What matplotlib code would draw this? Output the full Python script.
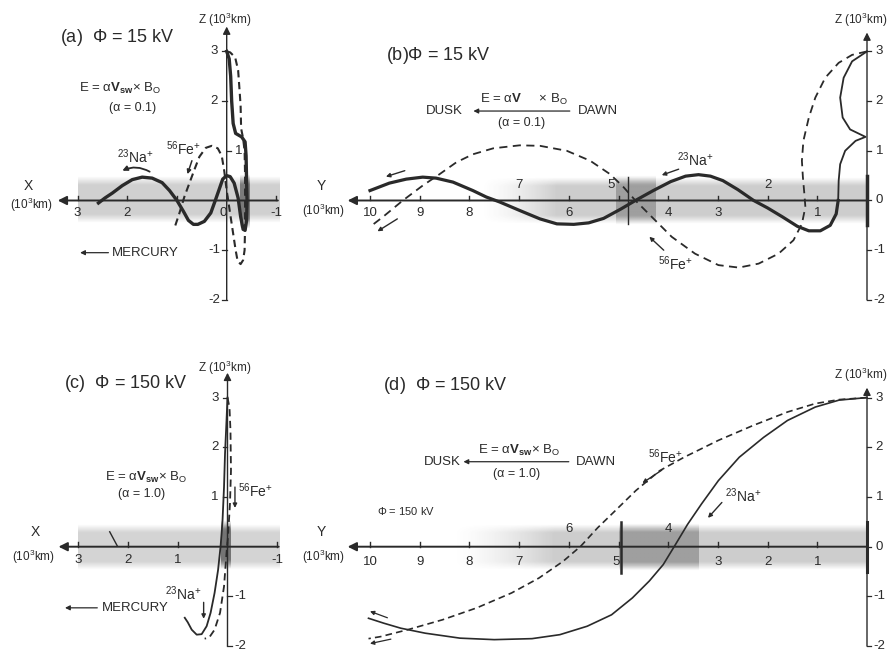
import numpy as np
import matplotlib
matplotlib.use("Agg")
import matplotlib.pyplot as plt

plt.rcParams['font.family'] = ['Liberation Sans', 'DejaVu Sans']
plt.rcParams['mathtext.fontset'] = 'custom'
plt.rcParams['mathtext.rm'] = 'Liberation Sans'
plt.rcParams['mathtext.it'] = 'Liberation Sans:italic'
plt.rcParams['mathtext.bf'] = 'Liberation Sans:bold'

INK = '#2a2a2a'

# ---- trajectories (units of 10^3 km) ----
# (a) phi = 15 kV, X-Z plane
a_na_x = [0.0, -0.05, -0.08, -0.10, -0.13, -0.18, -0.30, -0.37, -0.39, -0.40, -0.41, -0.40, -0.37,
          -0.33, -0.28, -0.23, -0.15, -0.07, 0.0, 0.08, 0.16, 0.23, 0.32, 0.45, 0.58, 0.67, 0.77,
          0.87, 1.0, 1.15, 1.3, 1.5, 1.7, 1.9, 2.1, 2.3, 2.45, 2.58]
a_na_z = [3.0, 2.85, 2.5, 2.0, 1.55, 1.35, 1.28, 1.18, 0.9, 0.4, 0.0, -0.4, -0.6,
          -0.58, -0.32, 0.05, 0.35, 0.48, 0.5, 0.43, 0.2, 0.0, -0.25, -0.42, -0.48, -0.48, -0.4,
          -0.22, 0.0, 0.2, 0.36, 0.45, 0.47, 0.42, 0.3, 0.15, 0.05, -0.05]
a_fe_x = [0.0, -0.07, -0.17, -0.23, -0.26, -0.28, -0.29, -0.33, -0.36, -0.37, -0.37, -0.37, -0.36,
          -0.33, -0.28, -0.22, -0.18, -0.12, -0.06, 0.0, 0.05, 0.1, 0.18, 0.3, 0.42, 0.55, 0.65,
          0.75, 0.85, 0.95, 1.04]
a_fe_z = [3.0, 2.98, 2.88, 2.62, 2.2, 1.9, 1.45, 1.25, 1.0, 0.5, 0.0, -0.5, -1.0,
          -1.2, -1.28, -1.22, -1.0, -0.6, -0.2, 0.2, 0.6, 0.9, 1.05, 1.1, 1.06, 0.88, 0.62,
          0.35, 0.08, -0.25, -0.52]

# (b) phi = 15 kV, Y-Z plane
b_na_y = [0.0, 0.30, 0.47, 0.54, 0.49, 0.34, 0.03, 0.23, 0.44, 0.54, 0.57, 0.58, 0.62, 0.74, 0.94,
          1.17, 1.4, 1.7, 2.0, 2.28, 2.6, 2.9, 3.15, 3.39, 3.65, 3.95, 4.3, 4.66, 4.95, 5.3, 5.6,
          5.9, 6.24, 6.58, 6.99, 7.39, 7.66, 7.93, 8.33, 8.67, 8.94, 9.27, 9.61, 10.0]
b_na_z = [3.0, 2.8, 2.47, 2.07, 1.67, 1.43, 1.28, 1.2, 1.0, 0.73, 0.4, 0.0, -0.27, -0.5, -0.61,
          -0.61, -0.52, -0.33, -0.15, 0.0, 0.22, 0.4, 0.49, 0.52, 0.49, 0.38, 0.2, 0.0, -0.17, -0.36, -0.45,
          -0.48, -0.47, -0.37, -0.2, -0.03, 0.07, 0.2, 0.37, 0.45, 0.47, 0.43, 0.35, 0.2]
b_fe_y = [0.0, 0.3, 0.57, 0.84, 1.04, 1.17, 1.28, 1.31, 1.29, 1.26, 1.24, 1.31, 1.48, 1.78, 2.18,
          2.58, 2.99, 3.46, 3.93, 4.33, 4.66, 4.9, 5.17, 5.57, 6.04, 6.58, 6.99, 7.52, 7.93, 8.26,
          8.6, 8.94, 9.34, 9.74, 10.0]
b_fe_z = [3.0, 2.93, 2.77, 2.47, 2.07, 1.67, 1.2, 0.8, 0.47, 0.13, -0.13, -0.47, -0.8, -1.07, -1.27,
          -1.35, -1.3, -1.07, -0.73, -0.33, 0.0, 0.27, 0.53, 0.8, 1.0, 1.1, 1.11, 1.05, 0.93, 0.77,
          0.53, 0.3, 0.0, -0.33, -0.53]

# (c) phi = 150 kV, X-Z plane
c_na_x = [0.0, 0.02, 0.05, 0.07, 0.1, 0.12, 0.14, 0.19, 0.26, 0.34, 0.42, 0.52, 0.62, 0.72, 0.8, 0.86]
c_na_z = [3.0, 2.53, 1.87, 1.2, 0.53, 0.25, 0.0, -0.47, -0.93, -1.33, -1.6, -1.76, -1.77, -1.67, -1.52, -1.43]
c_fe_x = [0.0, -0.04, -0.06, -0.07, -0.05, -0.01, 0.02, 0.07, 0.15, 0.26, 0.37, 0.46]
c_fe_z = [3.0, 2.8, 2.33, 1.53, 0.87, 0.2, -0.13, -0.8, -1.33, -1.67, -1.83, -1.85]

# (d) phi = 150 kV, Y-Z plane
d_na_y = [0, 0.56, 1.04, 1.6, 2.08, 2.57, 2.99, 3.33, 3.61, 3.85, 4.1, 4.38, 4.72, 5.14, 5.63,
          6.18, 6.74, 7.5, 8.19, 8.89, 9.38, 9.72, 10.03]
d_na_z = [3, 2.95, 2.81, 2.54, 2.2, 1.8, 1.33, 0.86, 0.45, 0.05, -0.36, -0.69, -1.03, -1.37, -1.6,
          -1.77, -1.85, -1.87, -1.84, -1.74, -1.64, -1.54, -1.44]
d_fe_y = [0, 0.56, 1.04, 1.6, 2.29, 2.99, 3.68, 4.17, 4.65, 5.07, 5.42, 5.76, 6.11, 6.6, 7.15,
          7.85, 8.54, 9.24, 9.79, 10.03]
d_fe_z = [3, 2.96, 2.88, 2.71, 2.44, 2.14, 1.8, 1.53, 1.13, 0.72, 0.38, 0.01, -0.29, -0.63, -0.93,
          -1.23, -1.47, -1.67, -1.81, -1.85]

# axis ticks
x_ticks = [3, 2, 1, 0, -1]
y_ticks = [10, 9, 8, 7, 6, 5, 4, 3, 2, 1]
z_ticks = [3, 2, 1, 0, -1, -2]

W, H = 896, 654
SC = 49.7  # px per 10^3 km


def make_panel(fig, ox, oz, left, right, bottom, top):
    # ox, oz: pixel position of the origin; left/right/bottom/top in data units
    l_px = ox - left * SC
    r_px = ox - right * SC
    t_px = oz - top * SC
    b_px = oz - bottom * SC
    ax = fig.add_axes([l_px / W, 1 - b_px / H, (r_px - l_px) / W, (b_px - t_px) / H])
    ax.axis('off')
    return ax, (left, right, bottom, top)


def band(ax, x0, x1, z0, z1, level, fade=0.0, gray=0.3):
    nx, nz = 300, 60
    xs = np.linspace(0, 1, nx)
    zs = np.linspace(0, 1, nz)
    az = np.clip(np.minimum(zs, 1 - zs) / 0.18, 0, 1)
    axx = np.ones(nx)
    if fade > 0:
        axx = np.clip(xs / fade, 0, 1) ** 1.5
    rgba = np.zeros((nz, nx, 4))
    rgba[..., :3] = gray
    rgba[..., 3] = level * np.outer(az, axx)
    ax.imshow(rgba, extent=(x0, x1, z0, z1), aspect='auto', interpolation='bilinear', zorder=0)


def arrow(ax, x0, z0, x1, z1, lw=0.9, ms=7, rad=0.0):
    ax.annotate('', xy=(x1, z1), xytext=(x0, z0),
                arrowprops=dict(arrowstyle='-|>', lw=lw, color=INK, mutation_scale=ms,
                                shrinkA=0, shrinkB=0, connectionstyle=f'arc3,rad={rad}'))


def horiz_axis(ax, hstart, hend, ticks, below, above, lab_dz=0.26):
    ax.annotate('', xy=(hend, 0), xytext=(hstart, 0),
                arrowprops=dict(arrowstyle='-|>', lw=1.4, color=INK, mutation_scale=13,
                                shrinkA=0, shrinkB=0), zorder=3)
    for t in ticks:
        ax.plot([t, t], [0, 0.1], color=INK, lw=1.0, zorder=3)
    for t, dx in below:
        ax.text(t + dx, -lab_dz, str(t), ha='center', va='center', fontsize=9.5, color=INK)
    for t, dx in above:
        ax.text(t + dx, lab_dz + 0.05, str(t), ha='center', va='center', fontsize=9.5, color=INK)


def vert_axis(ax, pos, ztop, labels, tick_dir):
    ax.annotate('', xy=(pos, ztop), xytext=(pos, -2.0),
                arrowprops=dict(arrowstyle='-|>', lw=1.0, color=INK, mutation_scale=11,
                                shrinkA=0, shrinkB=0), zorder=3)
    for z, side in labels:
        s = tick_dir * side
        ax.plot([pos, pos + 0.09 * s], [z, z], color=INK, lw=0.9, zorder=3)
        ax.text(pos + 0.25 * s, z, str(z), ha='center', va='center', fontsize=9.5, color=INK)


def na_label(ax, x, z, size=10):
    ax.text(x, z, r'$^{23}$Na$^{+}$', ha='center', va='center', fontsize=size, color=INK)


def fe_label(ax, x, z, size=10):
    ax.text(x, z, r'$^{56}$Fe$^{+}$', ha='center', va='center', fontsize=size, color=INK)


fig = plt.figure(figsize=(W / 100, H / 100), dpi=100)
fig.patch.set_facecolor('white')

TS = 13  # title size

# ================= (a) =================
ax, lims = make_panel(fig, 226.7, 200.5, 4.3, -1.4, -2.4, 3.8)
band(ax, 3.0, -1.05, -0.46, 0.48, 0.26)
band(ax, -0.27, -0.47, -0.58, 0.52, 0.5, gray=0.15)
horiz_axis(ax, -1.03, 3.4, x_ticks, [(3, 0), (2, 0), (0, 0.07), (-1, 0)], [])
vert_axis(ax, 0, 3.5, [(3, 1), (2, 1), (1, -1), (-1, 1), (-2, 1)], 1)
ax.plot(a_fe_x, a_fe_z, color=INK, lw=1.5, ls=(0, (3.5, 2.2)), zorder=4)
ax.plot(a_na_x, a_na_z, color=INK, lw=2.4, zorder=5, solid_joinstyle='round')
ax.plot(a_na_x[:8], a_na_z[:8], color=INK, lw=1.2, zorder=6)
ax.text(2.2, 3.27, r'(a)  $\Phi$ = 15 kV', ha='center', va='center', fontsize=TS, color=INK)
ax.text(0.05, 3.64, r'Z (10$^3$km)', ha='center', va='center', fontsize=8.5, color=INK)
ax.text(4.0, 0.3, 'X', ha='center', va='center', fontsize=10, color=INK)
ax.text(3.93, -0.08, r'(10$^3$km)', ha='center', va='center', fontsize=8.5, color=INK)
ax.text(2.15, 2.25, r'E = α$\mathbf{V}_{\mathbf{sw}}$× B$_{\mathrm{O}}$', ha='center', va='center',
        fontsize=9.5, color=INK)
ax.text(1.9, 1.87, '(α = 0.1)', ha='center', va='center', fontsize=9, color=INK)
arrow(ax, 2.38, -1.05, 2.95, -1.05, lw=0.9, ms=7)
ax.text(2.32, -1.05, 'MERCURY', ha='left', va='center', fontsize=9.5, color=INK)
na_label(ax, 1.85, 0.88)
arrow(ax, 1.55, 0.58, 2.1, 0.6, lw=1.3, ms=7, rad=0.25)
fe_label(ax, 0.87, 1.04)
arrow(ax, 0.7, 0.8, 0.79, 0.53, lw=1.1, ms=6)
ax.set_xlim(lims[0], lims[1])
ax.set_ylim(lims[2], lims[3])

# ================= (b) =================
ax, lims = make_panel(fig, 867.0, 200.5, 11.2, -0.55, -2.4, 3.8)
band(ax, 7.8, 0.0, -0.47, 0.47, 0.28, fade=0.2)
band(ax, 5.05, 4.25, -0.5, 0.5, 0.3, gray=0.2)
horiz_axis(ax, 0, 10.45, y_ticks, [(10, 0), (9, 0), (8, 0), (6, 0), (4, 0), (3, 0), (1, 0)],
           [(7, 0), (5, 0.15), (2, 0)])
ax.plot([4.8, 4.8], [-0.47, 0.47], color=INK, lw=1.0, zorder=3)
ax.plot([0, 0], [-0.5, 0.5], color=INK, lw=2.5, zorder=3)
vert_axis(ax, 0, 3.38, [(3, 1), (2, 1), (1, 1), (0, 1), (-1, 1), (-2, 1)], -1)
ax.plot(b_fe_y, b_fe_z, color=INK, lw=1.3, ls=(0, (4.5, 3)), zorder=4)
ax.plot(b_na_y[:12], b_na_z[:12], color=INK, lw=1.3, zorder=5)
ax.plot(b_na_y[11:], b_na_z[11:], color=INK, lw=2.3, zorder=5, solid_joinstyle='round')
ax.text(8.63, 2.92, r'(b)$\Phi$ = 15 kV', ha='center', va='center', fontsize=TS, color=INK)
ax.text(0.12, 3.64, r'Z (10$^3$km)', ha='center', va='center', fontsize=8.5, color=INK)
ax.text(10.99, 0.3, 'Y', ha='center', va='center', fontsize=10, color=INK)
ax.text(10.93, -0.2, r'(10$^3$km)', ha='center', va='center', fontsize=8.5, color=INK)
ax.text(8.51, 1.8, 'DUSK', ha='center', va='center', fontsize=9.5, color=INK)
arrow(ax, 5.98, 1.8, 7.92, 1.8, lw=0.9, ms=7)
ax.text(6.9, 2.03, r'E = α$\mathbf{V}$     × B$_{\mathrm{O}}$', ha='center', va='center',
        fontsize=9.5, color=INK)
ax.text(6.95, 1.56, '(α = 0.1)', ha='center', va='center', fontsize=9, color=INK)
ax.text(5.41, 1.8, 'DAWN', ha='center', va='center', fontsize=9.5, color=INK)
arrow(ax, 9.3, 0.6, 9.68, 0.48, lw=1.0, ms=6)
arrow(ax, 9.45, -0.37, 9.85, -0.62, lw=1.0, ms=6)
na_label(ax, 3.45, 0.83)
arrow(ax, 3.79, 0.63, 4.13, 0.51, lw=1.0, ms=6)
fe_label(ax, 3.85, -1.27)
arrow(ax, 4.09, -1.0, 4.38, -0.73, lw=1.0, ms=6)
ax.set_xlim(lims[0], lims[1])
ax.set_ylim(lims[2], lims[3])

# ================= (c) =================
ax, lims = make_panel(fig, 227.5, 546.7, 4.3, -1.4, -2.4, 3.8)
band(ax, 3.0, -1.05, -0.46, 0.46, 0.24)
band(ax, 0.13, -0.07, -0.45, 0.52, 0.55, gray=0.15)
horiz_axis(ax, -1.03, 3.4, x_ticks, [(3, 0), (2, 0), (1, 0), (-1, 0)], [])
vert_axis(ax, 0, 3.5, [(3, 1), (2, 1), (1, 1), (-1, -1), (-2, -1)], 1)
ax.plot(c_fe_x, c_fe_z, color=INK, lw=1.3, ls=(0, (4, 2.5)), zorder=4)
ax.plot(c_na_x, c_na_z, color=INK, lw=1.3, zorder=5)
ax.plot([2.37, 2.22], [0.3, 0.02], color=INK, lw=1.0)
ax.text(2.04, 3.29, r'(c)  $\Phi$ = 150 kV', ha='center', va='center', fontsize=TS, color=INK)
ax.text(0.05, 3.6, r'Z (10$^3$km)', ha='center', va='center', fontsize=8.5, color=INK)
ax.text(3.86, 0.3, 'X', ha='center', va='center', fontsize=10, color=INK)
ax.text(3.9, -0.2, r'(10$^3$km)', ha='center', va='center', fontsize=8.5, color=INK)
ax.text(1.63, 1.4, r'E = α$\mathbf{V}_{\mathbf{sw}}$× B$_{\mathrm{O}}$', ha='center', va='center',
        fontsize=9.5, color=INK)
ax.text(1.72, 1.06, '(α = 1.0)', ha='center', va='center', fontsize=9, color=INK)
arrow(ax, 2.62, -1.23, 3.27, -1.23, lw=0.9, ms=7)
ax.text(2.52, -1.23, 'MERCURY', ha='left', va='center', fontsize=9.5, color=INK)
ax.text(-0.22, 1.12, r'$^{56}$Fe$^{+}$', ha='left', va='center', fontsize=10, color=INK)
arrow(ax, -0.15, 1.2, -0.15, 0.78, lw=1.0, ms=6)
na_label(ax, 0.9, -0.95)
arrow(ax, 0.48, -1.12, 0.48, -1.45, lw=1.0, ms=6)
ax.set_xlim(lims[0], lims[1])
ax.set_ylim(lims[2], lims[3])

# ================= (d) =================
ax, lims = make_panel(fig, 867.0, 546.7, 11.2, -0.55, -2.4, 3.8)
band(ax, 8.4, 0.0, -0.46, 0.46, 0.28, fade=0.25)
band(ax, 5.0, 3.4, -0.48, 0.48, 0.3, gray=0.2)
horiz_axis(ax, 0, 10.45, y_ticks, [(10, 0), (9, 0), (8, 0), (7, 0), (5, 0.05), (3, 0), (2, 0), (1, 0)],
           [(6, 0), (4, 0)], lab_dz=0.3)
ax.plot([4.95, 4.95], [-0.52, 0.5], color=INK, lw=1.8, zorder=3)
ax.plot([0, 0], [-0.5, 0.5], color=INK, lw=2.2, zorder=3)
vert_axis(ax, 0, 3.2, [(3, 1), (2, 1), (1, 1), (0, 1), (-1, 1), (-2, 1)], -1)
ax.plot(d_fe_y, d_fe_z, color=INK, lw=1.2, ls=(0, (4, 2.5)), zorder=4)
ax.plot(d_na_y, d_na_z, color=INK, lw=1.2, zorder=5)
ax.text(8.49, 3.25, r'(d)  $\Phi$ = 150 kV', ha='center', va='center', fontsize=TS, color=INK)
ax.text(0.12, 3.46, r'Z (10$^3$km)', ha='center', va='center', fontsize=8.5, color=INK)
ax.text(10.99, 0.3, 'Y', ha='center', va='center', fontsize=10, color=INK)
ax.text(10.93, -0.2, r'(10$^3$km)', ha='center', va='center', fontsize=8.5, color=INK)
ax.text(8.55, 1.71, 'DUSK', ha='center', va='center', fontsize=9.5, color=INK)
arrow(ax, 6.0, 1.71, 8.12, 1.71, lw=0.9, ms=7)
ax.text(7.0, 1.94, r'E = α$\mathbf{V}_{\mathbf{sw}}$× B$_{\mathrm{O}}$', ha='center', va='center',
        fontsize=9.5, color=INK)
ax.text(7.05, 1.46, '(α = 1.0)', ha='center', va='center', fontsize=9, color=INK)
ax.text(5.46, 1.71, 'DAWN', ha='center', va='center', fontsize=9.5, color=INK)
ax.text(9.28, 0.72, r'$\Phi$ = 150 kV', ha='center', va='center', fontsize=8, color=INK)
fe_label(ax, 4.05, 1.82)
arrow(ax, 4.13, 1.54, 4.52, 1.28, lw=1.0, ms=6)
na_label(ax, 2.5, 1.02)
arrow(ax, 2.92, 0.89, 3.2, 0.58, lw=1.0, ms=6)
arrow(ax, 9.65, -1.43, 10.0, -1.3, lw=0.9, ms=6)
arrow(ax, 9.58, -1.86, 10.0, -1.95, lw=0.9, ms=6)
ax.set_xlim(lims[0], lims[1])
ax.set_ylim(lims[2], lims[3])

fig.savefig('out.png', dpi=100, facecolor='white')
